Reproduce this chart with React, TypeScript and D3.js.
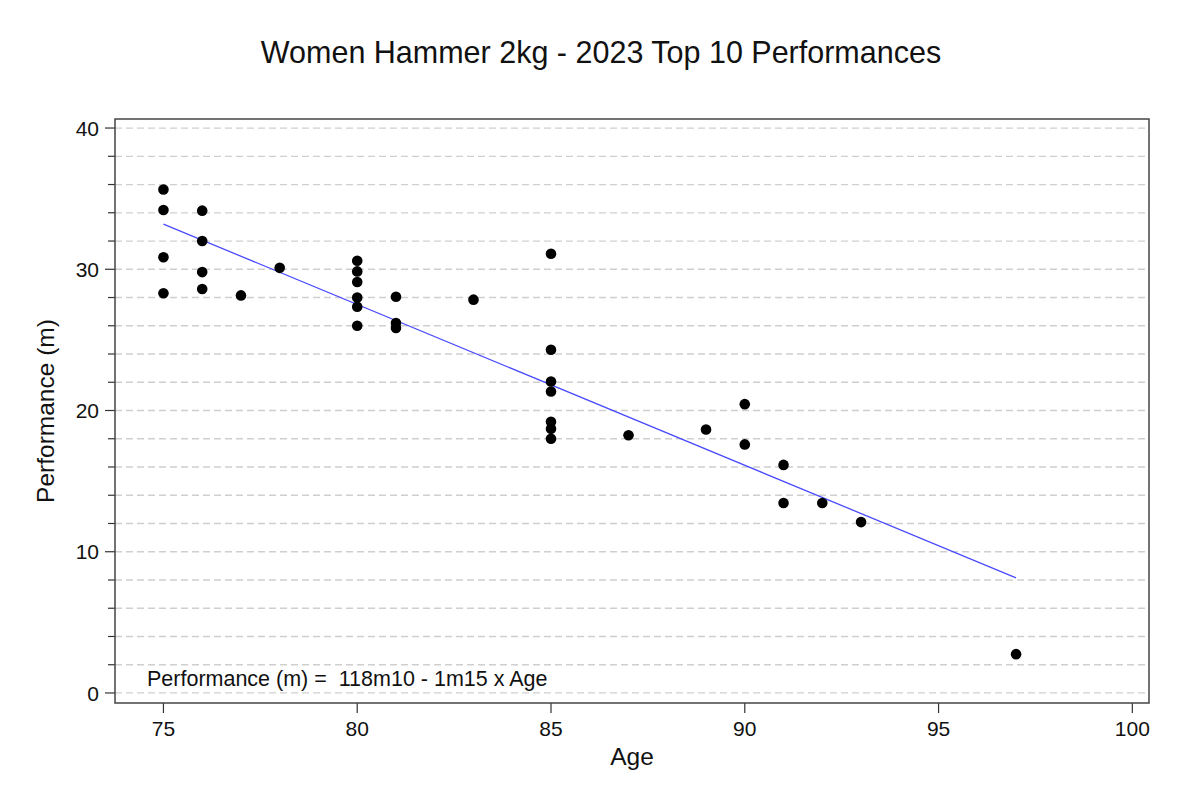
import React from "react";
import * as d3 from "d3";

// ages and performances (m)
const ages = [
  75, 75, 75, 75,
  76, 76, 76, 76,
  77, 78,
  80, 80, 80, 80, 80, 80,
  81, 81, 81,
  83,
  85, 85, 85, 85, 85, 85, 85,
  87, 89, 90, 90, 91, 91, 92, 93, 97,
];
const marks = [
  35.65, 34.2, 30.85, 28.3,
  34.15, 32.0, 29.8, 28.6,
  28.15, 30.1,
  30.6, 29.85, 29.1, 28.0, 27.35, 26.0,
  28.05, 26.2, 25.85,
  27.85,
  31.1, 24.3, 22.05, 21.35, 19.2, 18.7, 18.0,
  18.25, 18.65, 20.45, 17.6, 16.15, 13.45, 13.45, 12.1, 2.75,
];

// regression line end points
const fitAges = [75, 97];
const fitMarks = [33.2, 8.15];

const xTicks = [75, 80, 85, 90, 95, 100];
const yTicks = [0, 10, 20, 30, 40];
const yMinor = d3.range(0, 41, 2);

const W = 1200;
const H = 798;
const margin = { top: 119, right: 51, bottom: 95, left: 115 };
const font = "'Liberation Sans', Arial, sans-serif";

const App: React.FC = () => {
  const x = d3
    .scaleLinear()
    .domain([73.75, 100.43])
    .range([margin.left, W - margin.right]);
  const y = d3
    .scaleLinear()
    .domain([-0.71, 40.64])
    .range([H - margin.bottom, margin.top]);

  const pts = ages.map((a, i) => ({ a, v: marks[i] }));
  const fit = fitAges.map((a, i) => [a, fitMarks[i]] as [number, number]);
  const line = d3
    .line<[number, number]>()
    .x((d) => x(d[0]))
    .y((d) => y(d[1]));

  const left = margin.left;
  const right = W - margin.right;
  const top = margin.top;
  const bottom = H - margin.bottom;

  return (
    <svg
      width={W}
      height={H}
      style={{ position: "absolute", left: 0, top: 0, background: "#fff" }}
      fontFamily={font}
    >
      <rect width={W} height={H} fill="#fff" />
      <text x={601} y={63} textAnchor="middle" fontSize={30.5} fill="#111">
        Women Hammer 2kg - 2023 Top 10 Performances
      </text>

      {/* grid */}
      {yMinor.map((t) => (
        <line
          key={"g" + t}
          x1={left}
          x2={right}
          y1={y(t)}
          y2={y(t)}
          stroke="#cfcfcf"
          strokeWidth={1.3}
          strokeDasharray="7,4"
        />
      ))}

      {/* y ticks */}
      {yMinor.map((t) => (
        <line
          key={"ym" + t}
          x1={left - (t % 10 === 0 ? 10 : 7)}
          x2={left}
          y1={y(t)}
          y2={y(t)}
          stroke="#333"
          strokeWidth={1.2}
        />
      ))}
      {yTicks.map((t) => (
        <text
          key={"yl" + t}
          x={left - 16}
          y={y(t)}
          dy="0.36em"
          textAnchor="end"
          fontSize={21}
          fill="#111"
        >
          {t}
        </text>
      ))}

      {/* x ticks */}
      {xTicks.map((t) => (
        <g key={"x" + t}>
          <line x1={x(t)} x2={x(t)} y1={bottom} y2={bottom + 10} stroke="#333" strokeWidth={1.2} />
          <text x={x(t)} y={bottom + 33} textAnchor="middle" fontSize={21} fill="#111">
            {t}
          </text>
        </g>
      ))}

      <path d={line(fit) || ""} fill="none" stroke="#4a4aff" strokeWidth={1.3} />

      {pts.map((p, i) => (
        <circle key={i} cx={x(p.a)} cy={y(p.v)} r={5.3} fill="#000" />
      ))}

      <text x={147} y={686} fontSize={21.5} fill="#111" style={{ whiteSpace: "pre" }}>
        {"Performance (m) =  118m10 - 1m15 x Age"}
      </text>

      <rect
        x={left}
        y={top}
        width={right - left}
        height={bottom - top}
        fill="none"
        stroke="#444"
        strokeWidth={1.5}
      />

      <text x={(left + right) / 2} y={765} textAnchor="middle" fontSize={24.5} fill="#111">
        Age
      </text>
      <text
        transform={`translate(54,${(top + bottom) / 2}) rotate(-90)`}
        textAnchor="middle"
        fontSize={24.5}
        fill="#111"
      >
        Performance (m)
      </text>
    </svg>
  );
};

export default App;
